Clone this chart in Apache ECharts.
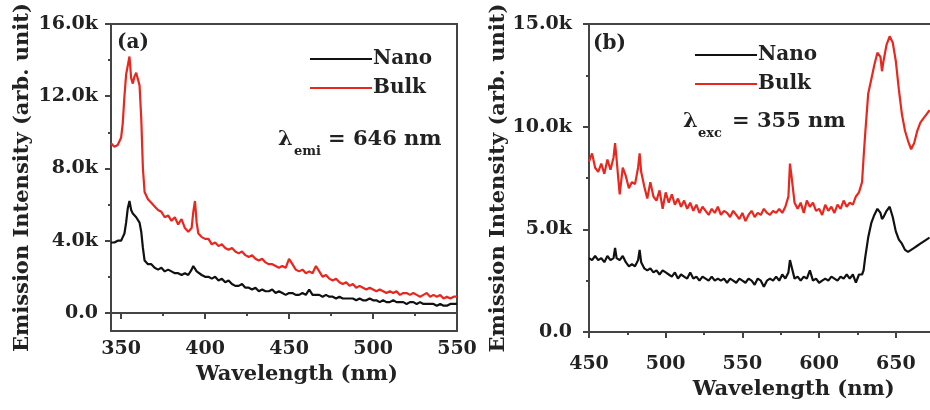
<!DOCTYPE html>
<html><head><meta charset="utf-8">
<script src="https://cdn.jsdelivr.net/npm/echarts@6/dist/echarts.min.js"></script>
<style>html,body{margin:0;padding:0;background:#fff}#c{width:930px;height:410px}</style>
</head><body><div id="c"></div>
<script>
// ---------- Panel (a): excitation spectra, lambda_emi = 646 nm ----------
const wavelengthA = [
  344,346,348,
  350,351,352,353,354,355,356,357,358,359,360,361,362,363,364,365,366,
  368,370,372,374,376,378,380,382,384,386,388,390,
  391,392,393,394,395,396,
  398,400,402,404,406,408,410,412,414,416,
  418,420,422,424,426,428,430,432,434,436,
  438,440,442,444,446,448,450,452,454,456,
  458,460,462,464,466,468,470,472,474,476,
  478,480,482,484,486,488,490,492,494,496,
  498,500,502,504,506,508,510,512,514,516,
  518,520,522,524,526,528,530,532,534,536,
  538,540,542,544,546,548,550
];
const bulkA = [
  9400,9200,9300,
  9700,10500,12000,13200,13700,14200,13000,12700,13100,13300,13200,12600,10800,8000,6700,6600,6300,
  6100,5900,5700,5600,5300,5400,5100,5300,4900,5200,4700,4500,
  4500,4700,5600,6200,5000,4400,
  4200,4100,4100,3800,3900,3700,3800,3600,3500,3600,
  3400,3300,3400,3200,3100,3200,3000,2900,3000,2800,
  2700,2700,2600,2500,2600,2500,3000,2700,2400,2300,
  2400,2200,2300,2200,2600,2300,2000,2100,1900,1800,
  1900,1700,1600,1700,1500,1600,1400,1500,1400,1300,
  1400,1300,1200,1300,1200,1100,1200,1100,1200,1000,
  1100,1100,1000,1100,1000,900,1000,1100,900,1000,
  900,1000,800,900,800,900,900
];
const nanoA = [
  3900,3900,4000,
  4000,4200,4400,5000,5800,6200,5700,5500,5400,5300,5200,5000,4500,3600,2900,2800,2700,
  2700,2500,2400,2500,2300,2400,2300,2200,2200,2100,2200,2100,
  2200,2400,2600,2700,2300,2200,
  2100,2000,2000,1900,2000,1800,1900,1700,1800,1600,
  1500,1500,1600,1400,1400,1300,1400,1200,1300,1200,
  1200,1300,1100,1200,1100,1000,1100,1100,1000,1000,
  1100,1000,1300,1000,1000,1000,900,1000,900,900,
  800,900,800,800,800,800,700,800,700,700,
  800,700,700,600,700,600,600,700,600,600,
  600,500,600,600,500,600,500,500,500,500,
  400,500,400,400,500,500,500
];

// ---------- Panel (b): emission spectra, lambda_exc = 355 nm ----------
const wavelengthB = [
  450,452,454,456,458,460,462,464,466,467,
  468,470,472,474,476,478,480,482,483,
  484,486,488,490,492,494,496,498,500,502,
  504,506,508,510,512,514,516,518,520,522,
  524,526,528,530,532,534,536,538,540,542,
  544,546,548,550,552,554,556,558,560,562,
  564,566,568,570,572,574,576,578,580,
  581,
  582,584,586,588,590,592,594,596,598,600,
  602,604,606,608,610,612,614,616,618,620,
  622,624,626,628,
  629,
  630,632,634,636,638,640,
  641,
  642,644,646,648,650,652,654,656,658,660,662,664,666,668,670,672
];
const bulkB = [
  8300,8700,8000,7800,8200,7700,8400,7900,8500,9200,
  8400,6700,8000,7600,7000,7300,7200,8000,8700,
  7800,7100,6500,7300,6600,6400,6900,6000,6800,6300,
  6700,6200,6500,6100,6400,6000,6300,5900,6200,5800,
  6100,5900,5700,6000,5800,6100,5700,5900,5800,5600,
  5900,5700,5500,5800,5400,5700,5900,5600,5800,5700,
  6000,5800,5700,5900,5800,6000,5800,6100,6600,
  8200,
  7600,6300,6000,6300,5800,6400,6100,6300,5900,6000,
  5700,6200,5900,6100,5800,6200,6000,6400,6100,6300,
  6200,6600,6800,7300,
  8500,
  9600,11600,12300,13000,13600,13400,
  12700,
  13200,14000,14400,14100,13200,11800,10600,9800,9300,8900,9200,9800,10200,10400,10600,10800
];
const nanoB = [
  3600,3500,3700,3500,3600,3400,3700,3500,3600,4100,
  3600,3500,3700,3400,3200,3300,3200,3500,4000,
  3400,3100,3000,3100,2900,3000,2800,3000,2900,2800,
  2700,2900,2600,2800,2700,2600,2900,2600,2700,2500,
  2700,2600,2500,2700,2500,2600,2500,2600,2400,2600,
  2500,2400,2600,2500,2400,2600,2500,2300,2600,2500,
  2200,2500,2600,2500,2700,2500,2800,2600,2900,
  3500,
  3200,2600,2700,2500,2700,2600,3000,2500,2600,2400,
  2500,2600,2500,2700,2600,2500,2700,2600,2800,2600,
  2800,2400,2800,2800,
  3000,
  3600,4600,5300,5700,6000,5800,
  5500,
  5600,5900,6100,5600,4900,4500,4300,4000,3900,4000,4100,4200,4300,4400,4500,4600
];

const seriesNames = ['Nano', 'Bulk'];
const xTicksA = [350, 400, 450, 500, 550];
const xMinorA = [375, 425, 475, 525];
const yTicksA = [0, 4000, 8000, 12000, 16000];
const yMinorA = [2000, 6000, 10000, 14000];
const panelLabels = ['(a)', '(b)'];
const xName = 'Wavelength (nm)';
const yName = 'Emission Intensity (arb. unit)';

const FONT = 'DejaVu Serif';
const AX = '#444';
const TXT = '#222';
const RED = '#e8281f';
const BLK = '#111';

function pairs(xs, ys) { return xs.map((x, i) => [x, ys[i]]); }
const fmtK = v => v === 0 ? '0.0' : (v / 1000).toFixed(1) + 'k';

const lblStyle = { fontFamily: FONT, fontWeight: 'bold', fontSize: 19, color: TXT };
const nameStyle = { fontFamily: FONT, fontWeight: 'bold', fontSize: 21, color: TXT };

const chart = echarts.init(document.getElementById('c'), null, { renderer: 'canvas' });
chart.setOption({
  animation: false,
  backgroundColor: '#fff',
  grid: [
    { left: 111, top: 24, width: 346, height: 307, show: true, borderColor: AX, borderWidth: 2, outerBoundsMode: 'none', containLabel: false },
    { left: 589, top: 24, width: 383.5, height: 308, show: true, borderColor: AX, borderWidth: 2, outerBoundsMode: 'none', containLabel: false }
  ],
  xAxis: [
    { gridIndex: 0, type: 'value', min: 344, max: 550,
      axisLine: { lineStyle: { color: AX, width: 2 } },
      axisTick: { customValues: xTicksA, length: 6, lineStyle: { color: AX, width: 2 } },
      axisLabel: Object.assign({ customValues: xTicksA, margin: 9 }, lblStyle),
      splitLine: { show: false },
      name: xName, nameLocation: 'middle', nameGap: 31,
      nameTextStyle: Object.assign({ padding: [0, 0, 0, 26] }, nameStyle) },
    { gridIndex: 0, type: 'value', min: 344, max: 550, position: 'bottom',
      axisLine: { show: false },
      axisTick: { customValues: xMinorA, length: 3, lineStyle: { color: AX, width: 2 } },
      axisLabel: { show: false }, splitLine: { show: false } },
    { gridIndex: 1, type: 'value', min: 450, max: 700, interval: 50,
      axisLine: { lineStyle: { color: AX, width: 2 } },
      axisTick: { length: 6, lineStyle: { color: AX, width: 2 } },
      minorTick: { show: true, splitNumber: 2, length: 3, lineStyle: { color: AX, width: 2 } },
      axisLabel: Object.assign({ margin: 23, showMaxLabel: false }, lblStyle),
      splitLine: { show: false },
      name: xName, nameLocation: 'middle', nameGap: 47,
      nameTextStyle: Object.assign({ padding: [0, 0, 0, 26] }, nameStyle) }
  ],
  yAxis: [
    { gridIndex: 0, type: 'value', min: -1000, max: 16000,
      axisLine: { show: true, lineStyle: { color: AX, width: 2 } },
      axisTick: { show: true, customValues: yTicksA, length: 6, lineStyle: { color: AX, width: 2 } },
      axisLabel: Object.assign({ customValues: yTicksA, margin: 13, formatter: fmtK }, lblStyle),
      splitLine: { show: false },
      name: yName, nameLocation: 'middle', nameGap: 78, nameTextStyle: nameStyle },
    { gridIndex: 0, type: 'value', min: -1000, max: 16000, position: 'left',
      axisLine: { show: false },
      axisTick: { show: true, customValues: yMinorA, length: 3, lineStyle: { color: AX, width: 2 } },
      axisLabel: { show: false }, splitLine: { show: false } },
    { gridIndex: 1, type: 'value', min: 0, max: 15000, interval: 5000,
      axisLine: { show: true, lineStyle: { color: AX, width: 2 } },
      axisTick: { show: true, length: 6, lineStyle: { color: AX, width: 2 } },
      minorTick: { show: true, splitNumber: 2, length: 3, lineStyle: { color: AX, width: 2 } },
      axisLabel: Object.assign({ margin: 17, formatter: fmtK }, lblStyle),
      splitLine: { show: false },
      name: yName, nameLocation: 'middle', nameGap: 78, nameTextStyle: nameStyle }
  ],
  legend: [
    { left: 305, top: 44, orient: 'vertical', itemGap: 9, icon: 'rect', itemWidth: 62, itemHeight: 2,
      data: seriesNames, textStyle: { fontFamily: FONT, fontWeight: 'bold', fontSize: 20, color: TXT, padding: [0,0,0,-4] } },
    { left: 690, top: 40, orient: 'vertical', itemGap: 9, icon: 'rect', itemWidth: 62, itemHeight: 2,
      data: seriesNames, textStyle: { fontFamily: FONT, fontWeight: 'bold', fontSize: 20, color: TXT, padding: [0,0,0,-4] } }
  ],
  graphic: [
    { type: 'text', left: 117, top: 33, style: { text: panelLabels[0], fontFamily: FONT, fontWeight: 'bold', fontSize: 20, fill: TXT } },
    { type: 'text', left: 593, top: 34, style: { text: panelLabels[1], fontFamily: FONT, fontWeight: 'bold', fontSize: 20, fill: TXT } },
    { type: 'text', left: 278, top: 129, style: { text: 'λ', fontFamily: FONT, fontWeight: 'bold', fontSize: 21, fill: TXT } },
    { type: 'text', left: 294, top: 145, style: { text: 'emi', fontFamily: FONT, fontWeight: 'bold', fontSize: 13, fill: TXT } },
    { type: 'text', left: 328, top: 129, style: { text: '= 646 nm', fontFamily: FONT, fontWeight: 'bold', fontSize: 21, fill: TXT } },
    { type: 'text', left: 683, top: 111, style: { text: 'λ', fontFamily: FONT, fontWeight: 'bold', fontSize: 21, fill: TXT } },
    { type: 'text', left: 698, top: 127, style: { text: 'exc', fontFamily: FONT, fontWeight: 'bold', fontSize: 13, fill: TXT } },
    { type: 'text', left: 732, top: 111, style: { text: '= 355 nm', fontFamily: FONT, fontWeight: 'bold', fontSize: 21, fill: TXT } }
  ],
  series: [
    { name: seriesNames[0], type: 'line', xAxisIndex: 0, yAxisIndex: 0, showSymbol: false, symbol: 'none',
      data: pairs(wavelengthA, nanoA), lineStyle: { color: BLK, width: 2.2 }, itemStyle: { color: BLK }, z: 3 },
    { name: seriesNames[1], type: 'line', xAxisIndex: 0, yAxisIndex: 0, showSymbol: false, symbol: 'none',
      data: pairs(wavelengthA, bulkA), lineStyle: { color: RED, width: 2.2 }, itemStyle: { color: RED }, z: 2 },
    { name: seriesNames[0], type: 'line', xAxisIndex: 2, yAxisIndex: 2, showSymbol: false, symbol: 'none',
      data: pairs(wavelengthB, nanoB), lineStyle: { color: BLK, width: 2.2 }, itemStyle: { color: BLK }, z: 3 },
    { name: seriesNames[1], type: 'line', xAxisIndex: 2, yAxisIndex: 2, showSymbol: false, symbol: 'none',
      data: pairs(wavelengthB, bulkB), lineStyle: { color: RED, width: 2.2 }, itemStyle: { color: RED }, z: 2 }
  ]
});
</script></body></html>
